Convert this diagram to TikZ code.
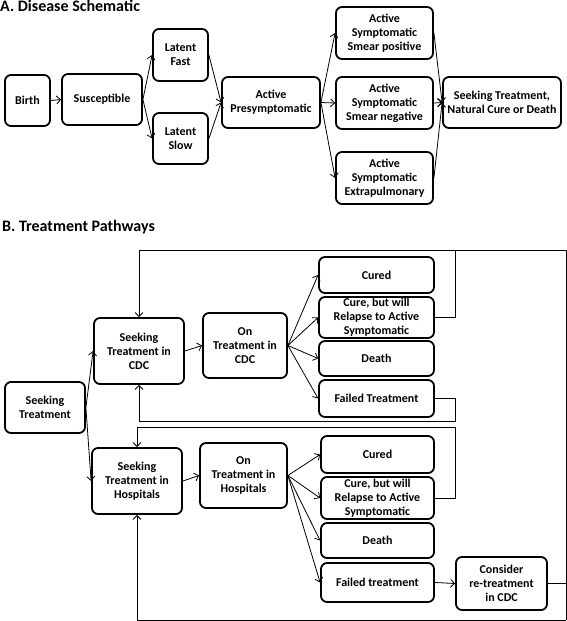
\documentclass[tikz,border=0pt]{standalone}
\usepackage{fontspec}
\setmainfont{Carlito}
\usetikzlibrary{arrows.meta}
\begin{document}
\begin{tikzpicture}[x=1pt,y=-1pt,
 box/.style={draw, line width=1.8pt, rounded corners=6pt, align=center, font=\bfseries\fontsize{12}{14}\selectfont, inner sep=0.5pt},
 sz/.style 2 args={minimum width=#1pt, minimum height=#2pt},
 conn/.style={line width=0.8pt, -{Straight Barb[length=4pt,width=8pt]}},
 wire/.style={line width=0.8pt},
 ttl/.style={anchor=north west, inner sep=0pt, font=\bfseries\fontsize{16}{18}\selectfont}]
\useasboundingbox (0,0) rectangle (567,621);
% Titles
\node[ttl] (ta) at (0,0) {A. Disease Schematic};
\node[ttl] (tb) at (2,220) {B. Treatment Pathways};
% Part A
\node[box, sz={45}{51}] (birth) at (27.5,100.5) {Birth};
\node[box, sz={80}{51}] (susc) at (102,99.5) {Susceptible};
\node[box, sz={55}{52}] (lf) at (180.5,55) {Latent\\Fast};
\node[box, sz={55}{51}] (ls) at (180.5,138.5) {Latent\\Slow};
\node[box, sz={98}{51}] (act) at (271,102.5) {Active\\Presymptomatic};
\node[box, sz={97}{52}] (sp) at (384.5,33) {Active\\Symptomatic\\Smear positive};
\node[box, sz={97}{52}] (sn) at (384.5,103) {Active\\Symptomatic\\Smear negative};
\node[box, sz={97}{52}] (ex) at (384.5,178) {Active\\Symptomatic\\Extrapulmonary};
\node[box, sz={118}{51}] (seek) at (502,102.5) {Seeking Treatment,\\Natural Cure or Death};
\draw[conn] (birth.east) -- (susc.west);
\draw[conn] (susc.east) -- (lf.west);
\draw[conn] (susc.east) -- (ls.west);
\draw[conn] (lf.east) -- (act.west);
\draw[conn] (ls.east) -- (act.west);
\foreach \n in {sp,sn,ex} {
  \draw[conn] (act.east) -- (\n.west);
  \draw[conn] (\n.east) -- (seek.west);
}
% Part B
\node[box, sz={80}{51}] (st) at (45,407.5) {Seeking\\Treatment};
\node[box, sz={90}{66}] (cdc) at (139,351) {Seeking\\Treatment in\\CDC};
\node[box, sz={84}{65}] (oncdc) at (245,345.5) {On\\Treatment in\\CDC};
\node[box, sz={115}{36}] (cur1) at (376.5,275) {Cured};
\node[box, sz={115}{41}] (rel1) at (376.5,317.5) {Cure, but will\\Relapse to Active\\Symptomatic};
\node[box, sz={115}{35}] (dea1) at (376.5,358.5) {Death};
\node[box, sz={115}{37}] (fail1) at (376.5,398.5) {Failed Treatment};
\node[box, sz={90}{66}] (hosp) at (137,481) {Seeking\\Treatment in\\Hospitals};
\node[box, sz={87}{65}] (onh) at (243.5,475.5) {On\\Treatment in\\Hospitals};
\node[box, sz={113}{37}] (cur2) at (377.5,454.5) {Cured};
\node[box, sz={113}{42}] (rel2) at (377.5,498) {Cure, but will\\Relapse to Active\\Symptomatic};
\node[box, sz={113}{35}] (dea2) at (377.5,540.5) {Death};
\node[box, sz={113}{39}] (fail2) at (377.5,582.5) {Failed treatment};
\node[box, sz={91}{53}] (cons) at (501.5,583.5) {Consider\\re-treatment\\in CDC};
\draw[conn] (st.east) -- (cdc.west);
\draw[conn] (st.east) -- (hosp.west);
\draw[conn] (cdc.east) -- (oncdc.west);
\draw[conn] (hosp.east) -- (onh.west);
\foreach \n in {cur1,rel1,dea1,fail1} { \draw[conn] (oncdc.east) -- (\n.west); }
\foreach \n in {cur2,rel2,dea2,fail2} { \draw[conn] (onh.east) -- (\n.west); }
\draw[conn] (fail2.east) -- (cons.west);
% feedback loops
\coordinate (j1) at (455,250);
\coordinate (j2) at (455,421);
\coordinate (j3) at (455,427);
\coordinate (tr) at (566,250);
\coordinate (br) at (566,620);
\draw[conn] (rel1.east) -| (j1) -| (cdc.north);
\draw[wire] (j1) -- (tr) -- (br);
\draw[conn] (fail1.east) -| (j2) -| (cdc.south);
\draw[conn] (rel2.east) -| (j3) -| (hosp.north);
\draw[wire] (cons.east) -- (cons.east -| br);
\draw[conn] (br) -| (hosp.south);
\end{tikzpicture}
\end{document}
